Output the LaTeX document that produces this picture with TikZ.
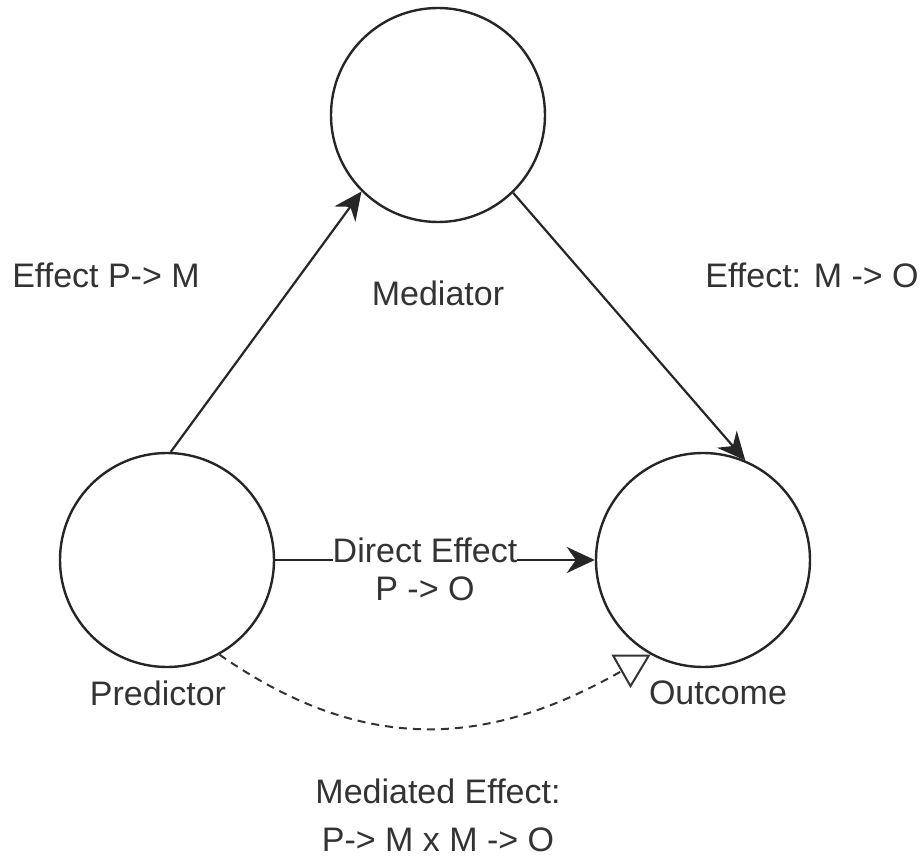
\documentclass[tikz,border=0pt]{standalone}
\usepackage{fontspec}
\setmainfont{Liberation Sans}
\usetikzlibrary{arrows.meta}

\begin{document}
\begin{tikzpicture}[x=0.5pt,y=-0.5pt,
  var/.style={draw=black!85,line width=1.2pt,circle,minimum size=107pt,inner sep=0pt},
  lbl/.style={text=black!80,font=\fontsize{17}{19}\selectfont,inner sep=0pt},
  effect/.style={draw=black!85,line width=1.1pt,-{Stealth[length=14pt,width=13pt,inset=4.5pt]}},
  mediated/.style={draw=black!80,line width=1pt,dash pattern=on 4pt off 3pt,-{Triangle[open,length=17pt,width=19pt]}}]
\useasboundingbox (0,0) rectangle (923,856);

% variables
\node[var] (mediator) at (438,115) {};
\node[var] (predictor) at (167,560) {};
\node[var] (outcome) at (703,560) {};

% names
\node[lbl] (medname) at (438,293) {Mediator};
\node[lbl] (predname) at (158,693) {Predictor};
\node[lbl] (outname) at (718,693) {Outcome};

% paths
\draw[effect] (predictor.88) -- (mediator.225);
\draw[effect] (mediator.-46) -- (outcome.67);
\draw[effect] (predictor.east) -- (outcome.west);
\draw[mediated] (predictor.-61) .. controls (370,760) and (495,743) .. (outcome.-119);

% effect labels
\node[lbl] (pm) at (106,275) {Effect P-> M};
\node[lbl] (mo) at (812,275) {Effect: M -> O};
\node[lbl,fill=white,align=center] (direct) at (425,569) {Direct Effect\\P -> O};
\node[lbl,align=center] (indirect) at (438,815) {Mediated Effect:\\[5pt]P-> M x M -> O};
\end{tikzpicture}
\end{document}
